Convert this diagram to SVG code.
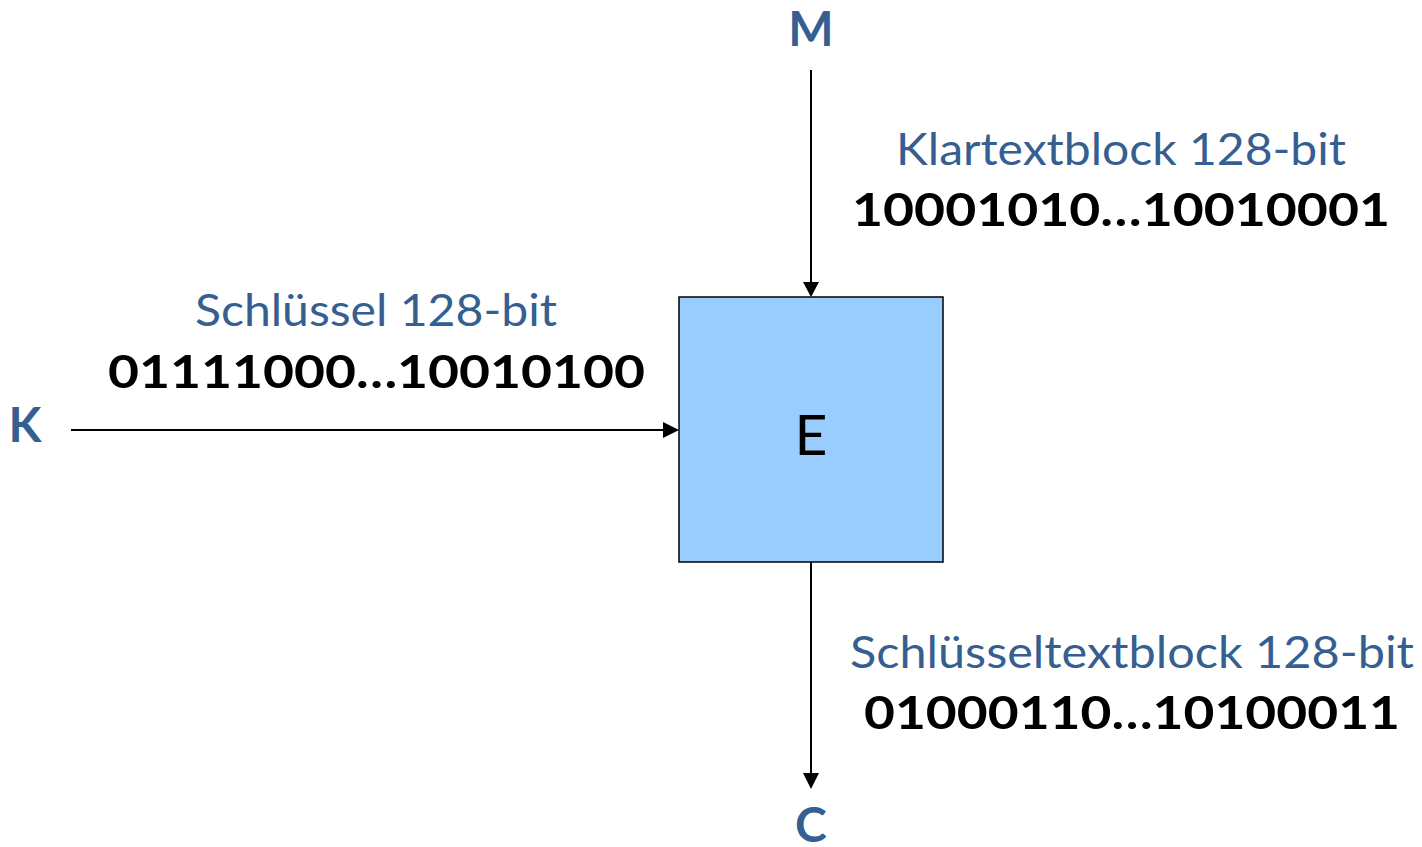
<svg xmlns="http://www.w3.org/2000/svg" width="1422" height="847" viewBox="0 0 1422 847">
  <style>
    .io { font-family: Lato, "Liberation Sans", sans-serif; font-weight: bold; font-size: 48px; fill: #365F91; text-anchor: middle; }
    .lbl { font-family: Lato, "Liberation Sans", sans-serif; font-size: 45px; fill: #365F91; text-anchor: middle; }
    .bits { font-family: Lato, "Liberation Sans", sans-serif; font-weight: bold; font-size: 45px; fill: #000; text-anchor: middle; }
    .wire { stroke: #000; stroke-width: 2; fill: none; }
    .head { fill: #000; }
  </style>

  <g id="connectors">
    <!-- M into E -->
    <line class="wire" x1="811" y1="70" x2="811" y2="284"/>
    <path class="head" d="M803,282 L811,297 L819,282 z"/>
    <!-- K into E -->
    <line class="wire" x1="71" y1="430" x2="665" y2="430"/>
    <path class="head" d="M663,422 L679,430 L663,438 z"/>
    <!-- E out to C -->
    <line class="wire" x1="811" y1="562" x2="811" y2="775"/>
    <path class="head" d="M803,773 L811,789 L819,773 z"/>
  </g>

  <g id="node-E">
    <rect x="679" y="297" width="264" height="265" fill="#99CCFF" stroke="#000" stroke-width="1.5"/>
    <text x="811" y="455" font-family="Lato, 'Liberation Sans', sans-serif" font-size="57" text-anchor="middle" fill="#000">E</text>
  </g>

  <g id="node-M">
    <text class="io" x="811" y="46">M</text>
  </g>
  <g id="node-K">
    <text class="io" x="25" y="442">K</text>
  </g>
  <g id="node-C">
    <text class="io" x="811" y="842">C</text>
  </g>

  <g id="label-key">
    <text class="lbl" x="376" y="326" textLength="362" lengthAdjust="spacingAndGlyphs">Schlüssel 128-bit</text>
    <text class="bits" x="376.5" y="388" textLength="537" lengthAdjust="spacingAndGlyphs">01111000…10010100</text>
  </g>
  <g id="label-plaintext">
    <text class="lbl" x="1121" y="165" textLength="450" lengthAdjust="spacingAndGlyphs">Klartextblock 128-bit</text>
    <text class="bits" x="1121" y="226" textLength="538" lengthAdjust="spacingAndGlyphs">10001010…10010001</text>
  </g>
  <g id="label-ciphertext">
    <text class="lbl" x="1132" y="668" textLength="564" lengthAdjust="spacingAndGlyphs">Schlüsseltextblock 128-bit</text>
    <text class="bits" x="1132" y="729" textLength="536" lengthAdjust="spacingAndGlyphs">01000110…10100011</text>
  </g>
</svg>
